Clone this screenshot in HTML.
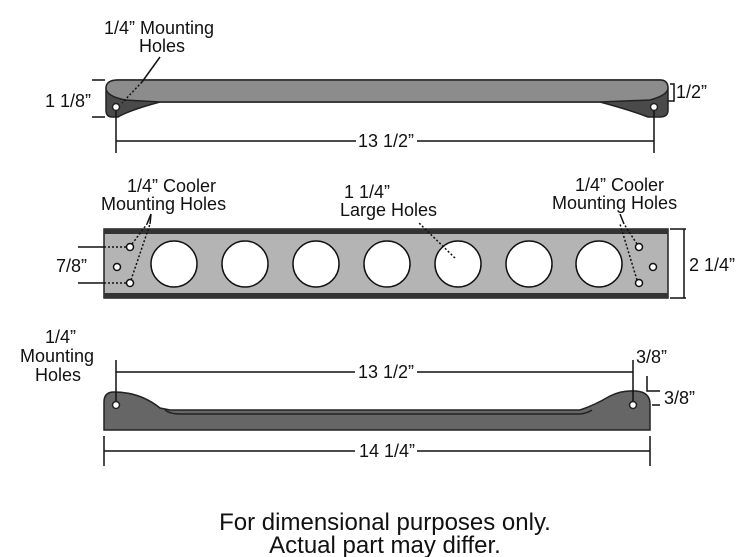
<!DOCTYPE html>
<html><head><style>body{margin:0;background:#fff}svg{display:block}text{font-family:"Liberation Sans",Arial,sans-serif;fill:#111}</style></head><body>
<svg width="750" height="557" viewBox="0 0 750 557" xmlns="http://www.w3.org/2000/svg">
<g stroke-width="1.5">
<path d="M106 90 Q106 80 118 80 L660 80 Q668 80 668 90 L668 110 Q668 117 660 117 L648 117 Q630 110 600 102 L160 102 Q130 110 118 117 L112 117 Q106 117 106 110 Z" fill="#4a4a4a" stroke="#222"/>
<path d="M106 88 Q106 80 118 80 L660 80 Q668 80 668 88 Q668 95 650 100 L600 102 L160 102 L125 100 Q106 96 106 88 Z" fill="#8c8c8c" stroke="#222"/>
<circle cx="116" cy="107" r="3.5" fill="#fff" stroke="#222"/>
<circle cx="654" cy="107" r="3.5" fill="#fff" stroke="#222"/>
<line x1="160" y1="57" x2="142" y2="82" stroke="#111"/>
<line x1="142" y1="82" x2="122" y2="103" stroke="#111" stroke-dasharray="2,2"/>
<line x1="92" y1="80" x2="105" y2="80" stroke="#111"/>
<line x1="92" y1="117" x2="105" y2="117" stroke="#111"/>
<polyline points="670,84 674,84 674,101 668,101" fill="none" stroke="#111"/>
<line x1="116" y1="111" x2="116" y2="153" stroke="#111"/>
<line x1="654" y1="111" x2="654" y2="153" stroke="#111"/>
<line x1="116" y1="141" x2="356" y2="141" stroke="#111"/>
<line x1="417" y1="141" x2="654" y2="141" stroke="#111"/>
<rect x="104" y="229" width="564" height="69" fill="#b4b4b4" stroke="#222"/>
<rect x="104" y="229" width="564" height="5" fill="#333"/>
<rect x="104" y="293" width="564" height="5" fill="#333"/>
<g fill="#fff" stroke="#111">
<circle cx="174" cy="264" r="23"/><circle cx="245" cy="264" r="23"/><circle cx="316" cy="264" r="23"/><circle cx="387" cy="264" r="23"/><circle cx="458" cy="264" r="23"/><circle cx="529" cy="264" r="23"/><circle cx="599" cy="264" r="23"/>
<circle cx="130" cy="247" r="3.5"/><circle cx="130" cy="283" r="3.5"/><circle cx="117" cy="267" r="3.5"/>
<circle cx="639" cy="247" r="3.5"/><circle cx="639" cy="283" r="3.5"/><circle cx="653" cy="267" r="3.5"/>
</g>
<g stroke="#111" stroke-dasharray="2,2" fill="none">
<line x1="104" y1="247" x2="127" y2="247"/><line x1="104" y1="283" x2="127" y2="283"/>
<line x1="132" y1="244" x2="147" y2="224"/><line x1="131" y1="280" x2="150" y2="224"/>
<line x1="637" y1="244" x2="624" y2="224"/><line x1="637" y1="280" x2="620" y2="224"/>
<line x1="455" y1="258" x2="418" y2="222"/>
</g>
<line x1="147" y1="224" x2="151" y2="214" stroke="#111"/>
<line x1="150" y1="224" x2="151" y2="214" stroke="#111"/>
<line x1="624" y1="224" x2="620" y2="214" stroke="#111"/>
<line x1="78" y1="247" x2="104" y2="247" stroke="#111"/>
<line x1="78" y1="283" x2="104" y2="283" stroke="#111"/>
<line x1="670" y1="229" x2="686" y2="229" stroke="#111"/>
<line x1="670" y1="298" x2="686" y2="298" stroke="#111"/>
<line x1="684" y1="229" x2="684" y2="298" stroke="#111"/>
<path d="M104 402 Q104 392 114 392 Q140 392 160 408 L170 410 L580 410 Q595 405 610 396 Q622 390 636 391 Q650 392 650 404 L650 430 L104 430 Z" fill="#666" stroke="#222"/>
<path d="M165 410 Q170 414 180 414 L580 414 Q588 413 592 410" fill="none" stroke="#222"/>
<circle cx="116" cy="405" r="3.5" fill="#fff" stroke="#222"/>
<circle cx="633" cy="405" r="3.5" fill="#fff" stroke="#222"/>
<line x1="116" y1="360" x2="116" y2="401" stroke="#111"/>
<line x1="633" y1="360" x2="633" y2="401" stroke="#111"/>
<line x1="116" y1="372" x2="355" y2="372" stroke="#111"/>
<line x1="417" y1="372" x2="633" y2="372" stroke="#111"/>
<polyline points="647,376 647,391 660,391" fill="none" stroke="#111"/>
<line x1="652" y1="405" x2="660" y2="405" stroke="#111"/>
<line x1="104" y1="436" x2="104" y2="466" stroke="#111"/>
<line x1="650" y1="436" x2="650" y2="466" stroke="#111"/>
<line x1="104" y1="451" x2="355" y2="451" stroke="#111"/>
<line x1="417" y1="451" x2="650" y2="451" stroke="#111"/>
</g>
<g font-size="18">
<text x="104" y="34">1/4” Mounting</text>
<text x="139" y="52">Holes</text>
<text x="45" y="107">1 1/8”</text>
<text x="676" y="98">1/2”</text>
<text x="358" y="147">13 1/2”</text>
<text x="56" y="272">7/8”</text>
<text x="127" y="192">1/4” Cooler</text>
<text x="101" y="210">Mounting Holes</text>
<text x="344" y="198">1 1/4”</text>
<text x="340" y="216">Large Holes</text>
<text x="575" y="191">1/4” Cooler</text>
<text x="552" y="209">Mounting Holes</text>
<text x="689" y="271">2 1/4”</text>
<text x="45" y="343">1/4”</text>
<text x="20" y="362">Mounting</text>
<text x="35" y="381">Holes</text>
<text x="358" y="378">13 1/2”</text>
<text x="636" y="363">3/8”</text>
<text x="664" y="404">3/8”</text>
<text x="359" y="457">14 1/4”</text>
</g>
<text x="385" y="530" font-size="24" text-anchor="middle">For dimensional purposes only.</text>
<text x="385" y="553" font-size="24" text-anchor="middle">Actual part may differ.</text>
</svg>
</body></html>
